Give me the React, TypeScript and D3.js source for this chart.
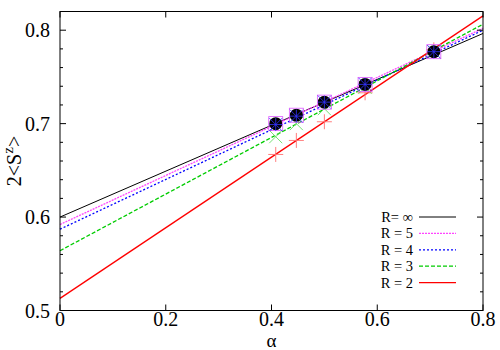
import React from 'react';
import * as d3 from 'd3';

// alpha values of the finite-size data
const alpha = [0.408, 0.447, 0.5, 0.577, 0.707];

// legend labels, top to bottom
const seriesNames = ['R= \u221e', 'R = 5', 'R = 4', 'R = 3', 'R = 2'];

// 2<S^z> per series
const rInf = [0.700, 0.709, 0.723, 0.742, 0.777];
const r5 = [0.700, 0.709, 0.723, 0.742, 0.777];
const r4 = [0.699, 0.708, 0.723, 0.742, 0.777];
const r3 = [0.686, 0.700, 0.716, 0.739, 0.777];
const r2 = [0.667, 0.682, 0.702, 0.733, 0.779];

// linear fits, value at alpha = 0 and alpha = 0.8
const fitAt0 = [0.600, 0.592, 0.587, 0.564, 0.513];
const fitAt08 = [0.7965, 0.802, 0.800, 0.8064, 0.8153];
const fitRange = [0, 0.8];

const xTicks = [0, 0.2, 0.4, 0.6, 0.8];
const yTicks = [0.5, 0.6, 0.7, 0.8];

const W = 500;
const H = 350;
const left = 60, right = 483, top = 11.5, bottom = 310.5;

const colors = ['#000000', '#ff44ff', '#0000ff', '#00cc00', '#ff0000'];
const markColors = ['#000000', '#dd55ff', '#3333ff', '#66dd66', '#ff7070'];
const dashes = ['none', '2,1', '2,2', '4,2', 'none'];
const font = '"Liberation Serif", "Times New Roman", serif';

export default function App() {
  const x = d3.scaleLinear().domain([0, 0.8]).range([left, right]);
  const y = d3.scaleLinear().domain([0.5, 0.82]).range([bottom, top]);
  const minorY = d3.range(0.52, 0.82, 0.02).filter(v => Math.abs(v * 10 - Math.round(v * 10)) > 0.01);

  const values = [rInf, r5, r4, r3, r2];
  const line = d3.line<[number, number]>().x(d => x(d[0])).y(d => y(d[1]));

  const marker = (i: number, cx: number, cy: number, key: string) => {
    const c = markColors[i];
    const s = 6.5;
    if (i === 0) return <circle key={key} cx={cx} cy={cy} r={6.5} fill="#000" />;
    if (i === 1) return <rect key={key} x={cx - 7} y={cy - 7} width={14} height={14} fill="none" stroke={c} strokeWidth={0.8} />;
    if (i === 2) return (
      <g key={key} stroke={c} strokeWidth={0.8}>
        <line x1={cx - s} x2={cx + s} y1={cy} y2={cy} />
        <line x1={cx} x2={cx} y1={cy - s} y2={cy + s} />
        <line x1={cx - s} x2={cx + s} y1={cy - s} y2={cy + s} />
        <line x1={cx - s} x2={cx + s} y1={cy + s} y2={cy - s} />
      </g>
    );
    if (i === 3) return (
      <g key={key} stroke={c} strokeWidth={0.9}>
        <line x1={cx - s} x2={cx + s} y1={cy - s} y2={cy + s} />
        <line x1={cx - s} x2={cx + s} y1={cy + s} y2={cy - s} />
      </g>
    );
    return (
      <g key={key} stroke={c} strokeWidth={0.9}>
        <line x1={cx - s - 1} x2={cx + s + 1} y1={cy} y2={cy} />
        <line x1={cx} x2={cx} y1={cy - s - 1} y2={cy + s + 1} />
      </g>
    );
  };

  // draw order for points: R=2, R=3, then R=inf, R=5, R=4
  const pointOrder = [4, 3, 0, 1, 2];

  return (
    <svg width={W} height={H} style={{ position: 'absolute', left: 0, top: 0, background: '#fff' }}>
      {/* fit lines */}
      {fitAt0.map((v, i) => (
        <path key={'fit' + i}
          d={line([[fitRange[0], v], [fitRange[1], fitAt08[i]]]) || ''}
          fill="none" stroke={colors[i]} strokeWidth={i === 0 ? 1 : 1.3}
          strokeDasharray={dashes[i]} />
      ))}

      {/* points */}
      {pointOrder.map(i => values[i].map((v, j) => marker(i, x(alpha[j]), y(v), `p${i}-${j}`)))}

      {/* frame */}
      <rect x={left} y={top} width={right - left} height={bottom - top} fill="none" stroke="#000" strokeWidth={1} />

      {/* x ticks */}
      {xTicks.map(t => (
        <g key={'xt' + t}>
          <line x1={x(t)} x2={x(t)} y1={bottom} y2={bottom - 6} stroke="#000" />
          <line x1={x(t)} x2={x(t)} y1={top} y2={top + 6} stroke="#000" />
          <text x={x(t)} y={326} textAnchor="middle" fontFamily={font} fontSize={20}>{t === 0 ? '0' : String(t)}</text>
        </g>
      ))}

      {/* y ticks */}
      {yTicks.map(t => (
        <g key={'yt' + t}>
          <line x1={left} x2={left + 6} y1={y(t)} y2={y(t)} stroke="#000" />
          <line x1={right} x2={right - 6} y1={y(t)} y2={y(t)} stroke="#000" />
          <text x={50} y={y(t)} dy="0.35em" textAnchor="end" fontFamily={font} fontSize={20}>{t.toFixed(1)}</text>
        </g>
      ))}
      {minorY.map(t => (
        <g key={'ym' + t}>
          <line x1={left} x2={left + 3} y1={y(t)} y2={y(t)} stroke="#000" />
          <line x1={right} x2={right - 3} y1={y(t)} y2={y(t)} stroke="#000" />
        </g>
      ))}

      {/* axis titles */}
      <text transform={`translate(21,${(top + bottom) / 2}) rotate(-90)`} textAnchor="middle" fontFamily={font} fontSize={20}>
        2&lt;S<tspan dy="-8" fontSize={15}>z</tspan><tspan dy="8">&gt;</tspan>
      </text>
      <text x={(left + right) / 2} y={347} textAnchor="middle" fontFamily={font} fontSize={19}>{'\u03b1'}</text>

      {/* legend */}
      {seriesNames.map((name, i) => {
        const ly = 217 + i * 16.4;
        return (
          <g key={'lg' + i}>
            <text x={413} y={ly} dy="0.34em" textAnchor="end" fontFamily={font} fontSize={14.5}>{name}</text>
            <line x1={419} x2={456} y1={ly} y2={ly} stroke={colors[i]} strokeWidth={i === 0 ? 1 : 1.3} strokeDasharray={dashes[i]} />
          </g>
        );
      })}
    </svg>
  );
}
